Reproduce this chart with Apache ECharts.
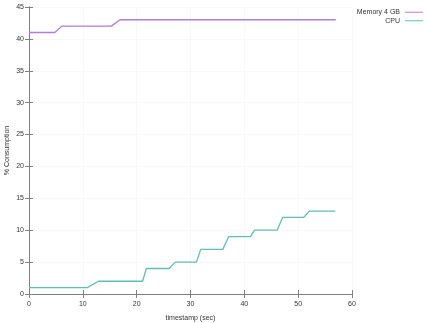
<!DOCTYPE html>
<html>
<head>
<meta charset="utf-8">
<script src="https://cdn.jsdelivr.net/npm/echarts@6/dist/echarts.min.js"></script>
<style>html,body{margin:0;padding:0;background:#fff}#c{width:429px;height:323px}</style>
</head>
<body>
<div id="c"></div>
<script>
const seriesNames = ['Memory 4 GB', 'CPU'];
const memoryTimes = [0, 4.8, 6.1, 15.3, 16.9, 57.0];
const memoryValues = [41, 41, 42, 42, 43, 43];
const cpuTimes = [0, 10.8, 12.9, 21.1, 21.8, 26.0, 27.2, 31.1, 31.9, 36.0, 37.1, 41.1, 41.9, 46.1, 47.1, 51.0, 52.1, 56.9];
const cpuValues = [1, 1, 2, 2, 4, 4, 5, 5, 7, 7, 9, 9, 10, 10, 12, 12, 13, 13];
const xTicks = [0, 10, 20, 30, 40, 50, 60];
const yTicks = [0, 5, 10, 15, 20, 25, 30, 35, 40, 45];

const font = 'Liberation Sans';
const frame = '#808080';
const memColor = '#b07ddc';
const cpuColor = '#62bfae';
const pair = (xs, ys) => xs.map((x, i) => [x, ys[i]]);

const chart = echarts.init(document.getElementById('c'), null, {renderer: 'canvas'});
const common = {
  axisLine: {show: true, lineStyle: {color: frame, width: 1}},
  axisTick: {show: true, inside: true, length: 4, lineStyle: {color: frame}},
};
chart.setOption({
  animation: false,
  backgroundColor: '#fff',
  textStyle: {fontFamily: font},
  grid: {left: 29, right: 77, top: 7, bottom: 29, containLabel: false, outerBoundsMode: 'none'},
  legend: {
    orient: 'vertical', right: 6, top: 8, align: 'right', padding: 0,
    icon: 'rect',
    itemWidth: 18, itemHeight: 1, itemGap: 0,
    textStyle: {fontSize: 7, lineHeight: 8.5, color: '#333', fontFamily: font},
    data: seriesNames
  },
  xAxis: [{
    type: 'value', min: xTicks[0], max: xTicks[xTicks.length - 1], interval: 10,
    name: 'timestamp (sec)', nameLocation: 'middle', nameGap: 21,
    nameTextStyle: {fontSize: 7, color: '#333'},
    axisLabel: {fontSize: 7, color: '#333', margin: 7},
    splitLine: {show: true, lineStyle: {color: '#f8f8f8'}},
    ...common
  }, {
    type: 'value', position: 'top', min: xTicks[0], max: xTicks[xTicks.length - 1], interval: 10,
    axisLabel: {show: false}, splitLine: {show: false}, ...common
  }],
  yAxis: [{
    type: 'value', min: yTicks[0], max: yTicks[yTicks.length - 1], interval: 5,
    name: '% Consumption', nameLocation: 'middle', nameGap: 18, nameMoveOverlap: false,
    nameTextStyle: {fontSize: 7, color: '#333'},
    axisLabel: {fontSize: 7, color: '#333', margin: 5},
    splitLine: {show: true, lineStyle: {color: '#f8f8f8'}},
    ...common
  }, {
    type: 'value', position: 'right', min: yTicks[0], max: yTicks[yTicks.length - 1], interval: 5,
    axisLabel: {show: false}, splitLine: {show: false}, ...common
  }],
  series: [{
    name: seriesNames[0], type: 'line', symbol: 'none', showSymbol: false,
    xAxisIndex: 0, yAxisIndex: 0,
    data: pair(memoryTimes, memoryValues),
    lineStyle: {color: memColor, width: 1.3}, itemStyle: {color: memColor}
  }, {
    name: seriesNames[1], type: 'line', symbol: 'none', showSymbol: false,
    xAxisIndex: 0, yAxisIndex: 0,
    data: pair(cpuTimes, cpuValues),
    lineStyle: {color: cpuColor, width: 1.3}, itemStyle: {color: cpuColor}
  }]
});
</script>
</body>
</html>
